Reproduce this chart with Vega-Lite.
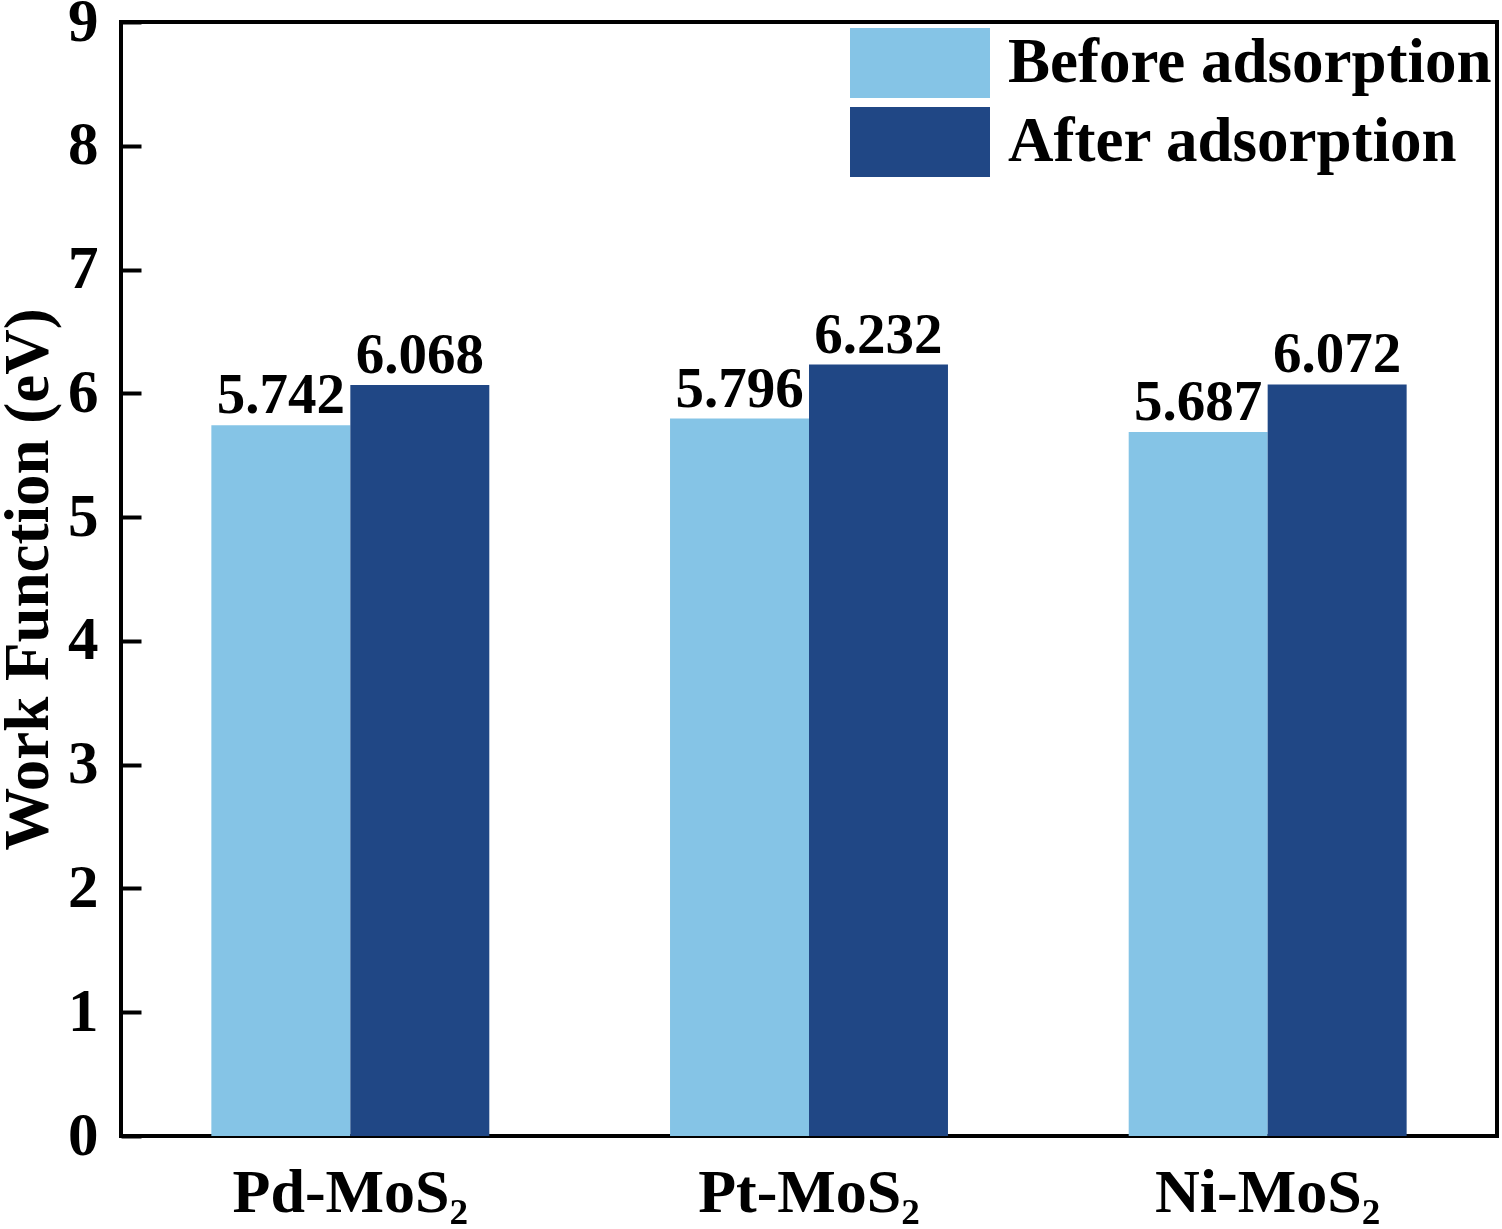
{
  "$schema": "https://vega.github.io/schema/vega-lite/v6.json",
  "width": 1376,
  "height": 1114,
  "autosize": {"type": "none"},
  "padding": {"left": 121, "top": 22, "right": 5, "bottom": 93},
  "background": "white",
  "data": {
    "values": [
      {"material": "Pd-MoS₂", "state": "Before adsorption", "value": 5.742},
      {"material": "Pd-MoS₂", "state": "After adsorption", "value": 6.068},
      {"material": "Pt-MoS₂", "state": "Before adsorption", "value": 5.796},
      {"material": "Pt-MoS₂", "state": "After adsorption", "value": 6.232},
      {"material": "Ni-MoS₂", "state": "Before adsorption", "value": 5.687},
      {"material": "Ni-MoS₂", "state": "After adsorption", "value": 6.072}
    ]
  },
  "config": {
    "font": "Liberation Serif",
    "view": {"stroke": "black", "strokeWidth": 4},
    "axis": {
      "grid": false,
      "domain": false,
      "labelFont": "Liberation Serif",
      "labelFontWeight": "bold",
      "labelColor": "black",
      "labelLimit": 0,
      "titleFont": "Liberation Serif",
      "titleFontWeight": "bold",
      "titleColor": "black"
    }
  },
  "encoding": {
    "x": {
      "field": "material",
      "type": "nominal",
      "sort": ["Pd-MoS₂", "Pt-MoS₂", "Ni-MoS₂"],
      "scale": {"paddingInner": 0.394, "paddingOuter": 0.197},
      "axis": {
        "title": null,
        "labelAngle": 0,
        "labelFontSize": 62,
        "labelLimit": 0,
        "ticks": false,
        "labelPadding": 26
      }
    },
    "xOffset": {
      "field": "state",
      "type": "nominal",
      "scale": {"domain": ["Before adsorption", "After adsorption"], "paddingInner": 0, "paddingOuter": 0}
    },
    "y": {
      "field": "value",
      "type": "quantitative",
      "scale": {"domain": [0, 9], "nice": false, "zero": true},
      "axis": {
        "title": "Work Function (eV)",
        "titleFontSize": 63,
        "titleAngle": -90,
        "titleAlign": "center",
        "titleBaseline": "alphabetic",
        "titleX": -74,
        "titleY": 557,
        "values": [0, 1, 2, 3, 4, 5, 6, 7, 8, 9],
        "labelFontSize": 61,
        "labelPadding": 43,
        "tickSize": -20,
        "tickWidth": 4,
        "tickColor": "black"
      }
    }
  },
  "layer": [
    {
      "mark": {"type": "bar"},
      "encoding": {
        "color": {
          "field": "state",
          "type": "nominal",
          "scale": {
            "domain": ["Before adsorption", "After adsorption"],
            "range": ["#85C4E6", "#204785"]
          },
          "legend": {
            "title": null,
            "orient": "none",
            "legendX": 764,
            "legendY": 6,
            "padding": 0,
            "symbolType": "M-2,-1H2V1H-2Z",
            "symbolSize": 4900,
            "symbolStrokeWidth": 0,
            "symbolOpacity": 1,
            "rowPadding": 9,
            "labelOffset": 53,
            "labelFont": "Liberation Serif",
            "labelFontWeight": "bold",
            "labelFontSize": 63,
            "labelColor": "black",
            "labelLimit": 0
          }
        }
      }
    },
    {
      "mark": {
        "type": "text",
        "baseline": "alphabetic",
        "dy": -12,
        "fontSize": 57,
        "fontWeight": "bold",
        "font": "Liberation Serif",
        "color": "black"
      },
      "encoding": {
        "text": {"field": "value", "type": "quantitative", "format": ".3f"}
      }
    }
  ]
}
